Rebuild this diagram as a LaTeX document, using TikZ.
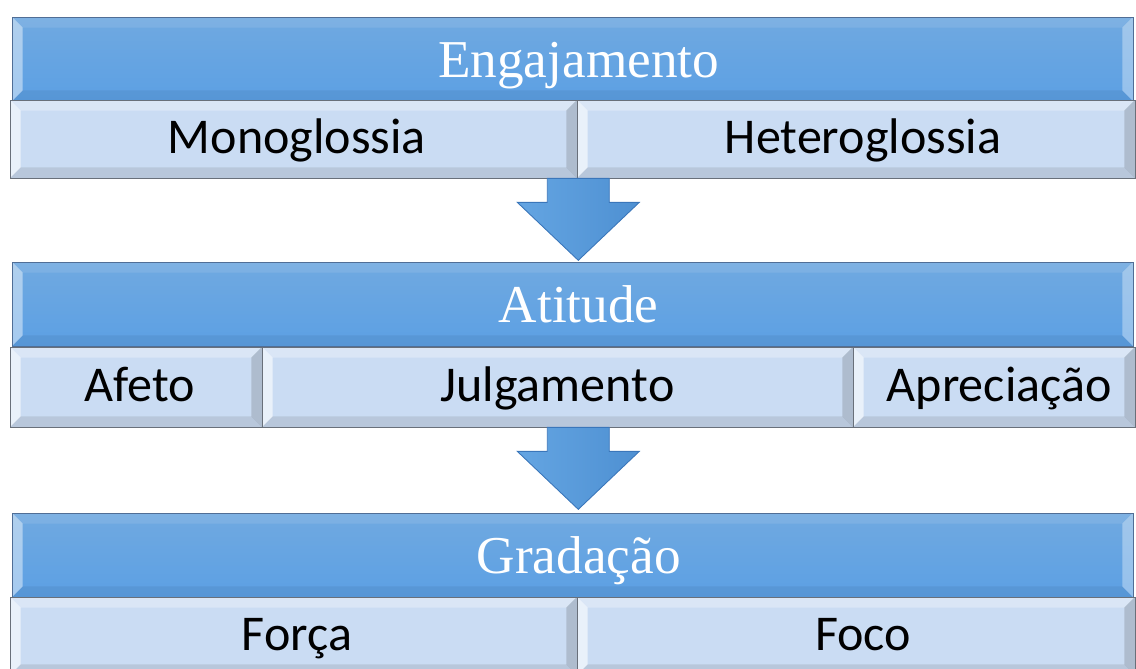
\documentclass[tikz,border=0pt]{standalone}
\usepackage{fontspec}
\setmainfont{Liberation Serif}
\newfontfamily\calfont{Carlito}
\usetikzlibrary{calc}
\definecolor{hdrtop}{RGB}{112,169,224}
\definecolor{hdrbot}{RGB}{92,160,228}
\definecolor{hdrline}{RGB}{80,110,150}
\definecolor{subfill}{RGB}{202,220,243}
\definecolor{subline}{RGB}{105,112,122}
\definecolor{arrlight}{RGB}{100,165,226}
\definecolor{arrblue}{RGB}{78,144,210}
\definecolor{arrdark}{RGB}{58,118,186}
\tikzset{
  bevel/.style n args={4}{path picture={
    \coordinate (pnw) at (path picture bounding box.north west);
    \coordinate (pne) at (path picture bounding box.north east);
    \coordinate (psw) at (path picture bounding box.south west);
    \coordinate (pse) at (path picture bounding box.south east);
    \fill[#1] (pnw) -- (psw) -- ([shift={(6pt,6pt)}]psw) -- ([shift={(6pt,-6pt)}]pnw) -- cycle;
    \fill[#2] (pnw) -- (pne) -- ([shift={(-6pt,-6pt)}]pne) -- ([shift={(6pt,-6pt)}]pnw) -- cycle;
    \fill[#3] (pne) -- (pse) -- ([shift={(-6pt,6pt)}]pse) -- ([shift={(-6pt,-6pt)}]pne) -- cycle;
    \fill[#4] (psw) -- (pse) -- ([shift={(-6pt,6pt)}]pse) -- ([shift={(6pt,6pt)}]psw) -- cycle;
  }},
  hdr/.style={draw=hdrline,top color=hdrtop,bottom color=hdrbot,minimum width=22.42cm,
    minimum height=1.68cm,inner sep=0pt,text=white,font=\fontsize{30.3}{36}\selectfont,
    text height=26pt,text depth=4.4pt,execute at begin node=\hspace{7pt},
    bevel={white,opacity=.45}{white,opacity=.1}{white,opacity=.35}{black,opacity=.06}},
  sub/.style={draw=subline,fill=subfill,minimum height=1.56cm,inner sep=0pt,
    font=\calfont\fontsize{28.5}{34}\selectfont,text height=20pt,text depth=4pt,
    bevel={white,opacity=.6}{white,opacity=.3}{black!70,opacity=.22}{black!70,opacity=.14}},
  blockarr/.style={draw=arrdark,line width=.5pt,left color=arrlight,right color=arrblue}
}
\begin{document}
\begin{tikzpicture}[x=0.02cm,y=-0.02cm]
    \useasboundingbox (0,0) rectangle (1136,669);

    \node[hdr] (engaj) at (572.5,59) {Engajamento};
    \node[sub,minimum width=11.34cm] (mono) at (293.5,139) {\hspace{4pt}Monoglossia};
    \node[sub,minimum width=11.16cm] (hetero) at (856,139) {\hspace{8pt}Heteroglossia};

    \node[hdr] (atit) at (572.5,304) {Atitude};
    \node[sub,minimum width=5.04cm,minimum height=1.6cm] (afeto) at (136,387) {\hspace{4pt}Afeto};
    \node[sub,minimum width=11.82cm,minimum height=1.6cm] (julg) at (557.5,387) {Julgamento};
    \node[sub,minimum width=5.64cm,minimum height=1.6cm] (aprec) at (994,387) {\hspace{6pt}Apreciação};

    \node[hdr] (grad) at (572.5,555) {Gradação};
    \node[sub,minimum width=11.34cm] (forca) at (293.5,636) {\hspace{4pt}Força};
    \node[sub,minimum width=11.16cm] (foco) at (856,636) {\hspace{8pt}Foco};

    \path[blockarr] (mono.south east) ++(-30,0) -- ++(0,24) -- ++(-30,0) -- ++(61,58)
        -- ++(61,-58) -- ++(-30,0) -- ++(0,-24) -- cycle;
    \path[blockarr] (julg.south -| mono.south east) ++(-30,0) -- ++(0,24) -- ++(-30,0) -- ++(61,58)
        -- ++(61,-58) -- ++(-30,0) -- ++(0,-24) -- cycle;
\end{tikzpicture}
\end{document}
